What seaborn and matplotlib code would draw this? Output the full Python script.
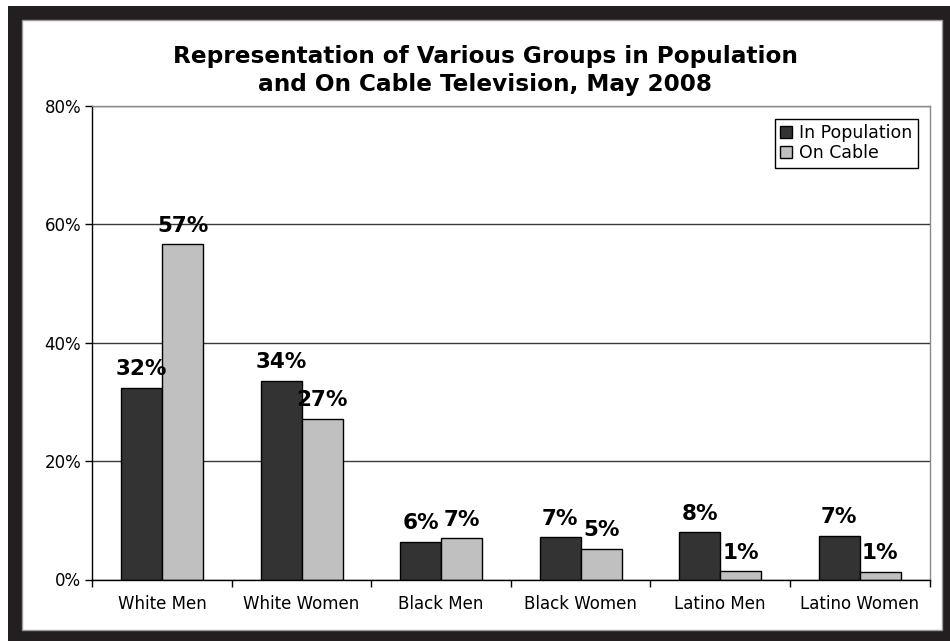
import matplotlib
matplotlib.use("Agg")
import matplotlib.pyplot as plt
from matplotlib.patches import Rectangle
from matplotlib.ticker import FuncFormatter, FixedLocator
import seaborn as sns
import pandas as pd

# Share of each group (percent)
groups = ["White Men", "White Women", "Black Men", "Black Women", "Latino Men", "Latino Women"]
population = [32.4, 33.6, 6.4, 7.2, 8.0, 7.4]
on_cable = [56.6, 27.2, 7.0, 5.2, 1.4, 1.3]
series_names = ["In Population", "On Cable"]
y_ticks = [0, 20, 40, 60, 80]
title_lines = ["Representation of Various Groups in Population",
               "and On Cable Television, May 2008"]

df = pd.DataFrame({
    "group": groups * 2,
    "value": population + on_cable,
    "series": [series_names[0]] * len(groups) + [series_names[1]] * len(groups),
})

sns.set_style("white")
plt.rcParams["font.family"] = ["DejaVu Sans"]
plt.rcParams["text.color"] = "black"
plt.rcParams["xtick.color"] = "black"
plt.rcParams["ytick.color"] = "black"
plt.rcParams["axes.labelcolor"] = "black"

W, H = 950, 641
fig = plt.figure(figsize=(W / 100, H / 100), dpi=100, facecolor="white")

# Dark outer frame with white panel inside
fig.patches.append(Rectangle((8 / W, 0), (W - 8) / W, (H - 6) / H,
                             transform=fig.transFigure, facecolor="#231f20",
                             edgecolor="none", zorder=-3))
fig.patches.append(Rectangle((22 / W, 11 / H), 920 / W, 610 / H,
                             transform=fig.transFigure, facecolor="white",
                             edgecolor="#9a9a9a", linewidth=1.0, zorder=-2))

ax_left, ax_right, ax_top, ax_bottom = 92.3, 929.5, 106, 579.5
ax = fig.add_axes([ax_left / W, (H - ax_bottom) / H,
                   (ax_right - ax_left) / W, (ax_bottom - ax_top) / H])
ax.set_facecolor("white")

sns.barplot(data=df, x="group", y="value", hue="series", order=groups,
            hue_order=series_names, palette=["#333333", "#c0c0c0"],
            width=0.588, edgecolor="black", linewidth=1.0, saturation=1,
            ax=ax, legend=True)

for container in ax.containers:
    vals = [b.get_height() for b in container]
    ax.bar_label(container, labels=[f"{v:.0f}%" for v in vals], padding=6,
                 fontsize=15.5, fontweight="bold", color="black")

ax.set_ylim(0, 80)
ax.set_xlim(-0.5, len(groups) - 0.5)
ax.yaxis.set_major_locator(FixedLocator(y_ticks))
ax.yaxis.set_major_formatter(FuncFormatter(lambda v, p: f"{v:.0f}%"))
ax.grid(axis="y", color="#3a3a3a", linewidth=1.0)
ax.grid(axis="x", visible=False)
ax.set_axisbelow(True)

ax.set_xlabel("")
ax.set_ylabel("")
ax.tick_params(axis="y", which="major", direction="out", length=5, width=1,
               color="black", labelcolor="black", labelsize=12, pad=3, left=True)
ax.tick_params(axis="x", which="major", length=0, labelsize=12,
               labelcolor="black", pad=11)
ax.xaxis.set_minor_locator(FixedLocator([i - 0.5 for i in range(len(groups) + 1)]))
ax.tick_params(axis="x", which="minor", direction="out", length=5, width=1,
               color="black", bottom=True)

for side in ["left", "bottom"]:
    ax.spines[side].set_color("black")
    ax.spines[side].set_linewidth(1.0)
for side in ["top", "right"]:
    ax.spines[side].set_visible(True)
    ax.spines[side].set_color("#8a8a8a")
    ax.spines[side].set_linewidth(1.0)

leg = ax.legend(loc="upper right",
                bbox_to_anchor=(1 - 12 / (ax_right - ax_left), 1 - 13 / (ax_bottom - ax_top)),
                fontsize=12.5, frameon=True, fancybox=False, shadow=False,
                handlelength=0.7, handleheight=0.7, handletextpad=0.4,
                borderpad=0.3, labelspacing=0.12, borderaxespad=0)
leg.get_frame().set_edgecolor("black")
leg.get_frame().set_linewidth(1.0)
leg.get_frame().set_alpha(1)
for t in leg.get_texts():
    t.set_color("black")

cx = 485 / W
fig.text(cx, (H - 62.5) / H, title_lines[0], ha="center", va="baseline",
         fontsize=16.7, fontweight="bold", color="black")
fig.text(cx, (H - 91.5) / H, title_lines[1], ha="center", va="baseline",
         fontsize=16.7, fontweight="bold", color="black")

fig.savefig("out.png", dpi=100, facecolor="white")
